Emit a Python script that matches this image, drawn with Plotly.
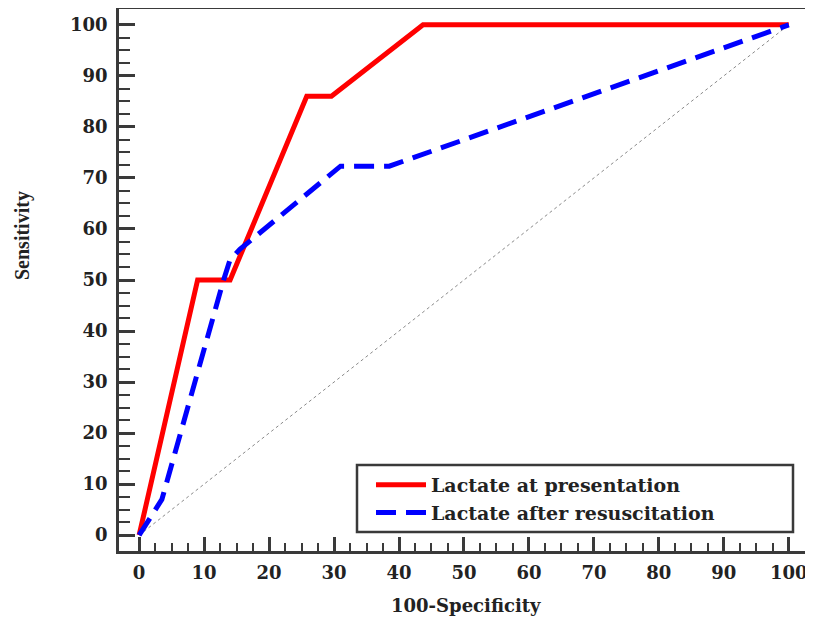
import plotly.graph_objects as go

# ROC curve data (100-Specificity, Sensitivity)
pres_x = [0, 9, 14, 25.8, 29.6, 43.7, 100]
pres_y = [0, 50, 50, 86, 86, 100, 100]

resus_x = [0, 3.5, 13, 14, 15.5, 31, 38.5, 100]
resus_y = [0, 7, 50, 54, 56, 72.3, 72.3, 100]

diag_x = [0, 100]
diag_y = [0, 100]

series_names = ["Lactate at presentation", "Lactate after resuscitation"]
tick_vals = [0, 10, 20, 30, 40, 50, 60, 70, 80, 90, 100]
minor_vals = [v * 2.5 for v in range(41) if v % 4 != 0]

FRAME = "#3a3a3a"
SERIF = "DejaVu Serif"

# page body has an 8px margin: figure spans window px 8..813 / 8..620
OFF = 8
W, H = 813 - OFF, 620 - OFF
L, R, T, B = 119 - OFF, W - (807 - OFF), 9 - OFF, H - (551 - OFF)
PW, PH = W - L - R, H - T - B

def px_x(px):
    return (px - 119) / PW

def px_y(py):
    return (551 - py) / PH

fig = go.Figure()
fig.add_trace(go.Scatter(x=diag_x, y=diag_y, mode="lines",
                         line=dict(color="#8a8a8a", width=1, dash="dot"),
                         showlegend=False, hoverinfo="skip"))
fig.add_trace(go.Scatter(x=pres_x, y=pres_y, mode="lines", name=series_names[0],
                         line=dict(color="#ff0000", width=5)))
fig.add_trace(go.Scatter(x=resus_x, y=resus_y, mode="lines", name=series_names[1],
                         line=dict(color="#0000ff", width=5, dash="20px,10px")))

def axis_style(major_len, minor_len, rng, standoff):
    return dict(
        range=rng,
        autorange=False,
        automargin=False,
        tickvals=tick_vals,
        ticks="inside",
        ticklen=major_len,
        tickwidth=3,
        tickcolor=FRAME,
        showline=True,
        linewidth=2.5,
        linecolor=FRAME,
        mirror=True,
        showgrid=False,
        zeroline=False,
        ticklabelstandoff=standoff,
        tickfont=dict(family=SERIF, size=18, color="#222", weight="bold"),
        minor=dict(tickvals=minor_vals, ticks="inside", ticklen=minor_len,
                   tickwidth=2, tickcolor=FRAME, showgrid=False),
    )

fig.update_xaxes(**axis_style(14, 8, [-3.1, 102.8], 4))
fig.update_yaxes(**axis_style(16, 11, [-3.1, 103.1], 5))

fig.add_annotation(text="100-Specificity", x=px_x(466), xref="paper", y=px_y(605), yref="paper",
                   xanchor="center", yanchor="middle", showarrow=False,
                   font=dict(family=SERIF, size=18, color="#222", weight="bold"))
fig.add_annotation(text="Sensitivity", textangle=-90, x=px_x(22), xref="paper", y=px_y(236), yref="paper",
                   xanchor="center", yanchor="middle", showarrow=False,
                   font=dict(family="Liberation Serif", size=20, color="#222", weight="bold"))

# legend frame
fig.add_shape(type="rect", xref="paper", yref="paper",
              x0=px_x(357), x1=px_x(793), y0=px_y(532), y1=px_y(465),
              line=dict(color=FRAME, width=2.5), fillcolor="white", layer="below")

fig.update_layout(
    width=W, height=H,
    margin=dict(l=L, r=R, t=T, b=B),
    plot_bgcolor="white", paper_bgcolor="white",
    legend=dict(x=px_x(371), y=px_y(466), xanchor="left", yanchor="top",
                bgcolor="rgba(0,0,0,0)", borderwidth=0,
                font=dict(family=SERIF, size=19, color="#222", weight="bold"),
                itemwidth=50, tracegroupgap=0),
)

fig.write_html("out.html")
